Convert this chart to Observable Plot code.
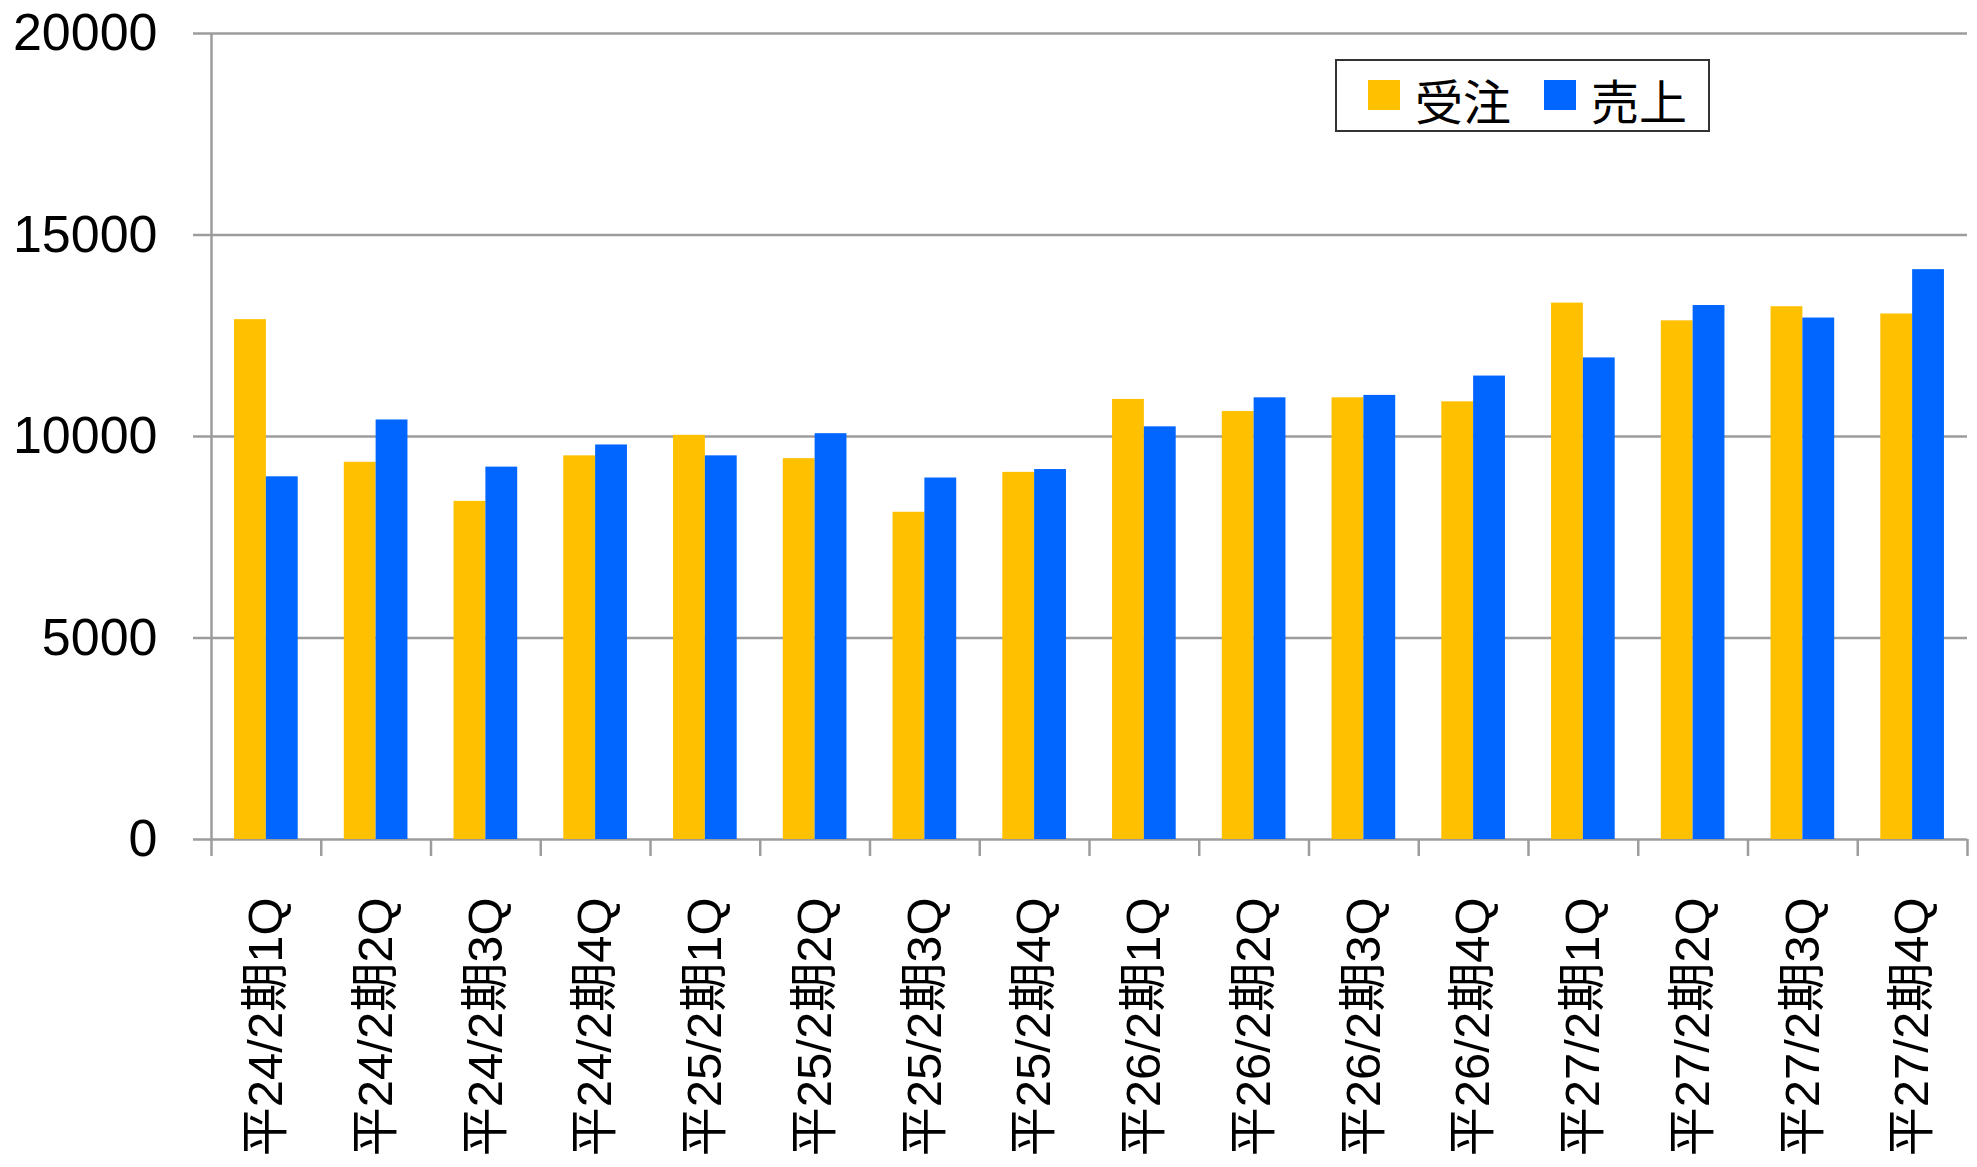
<!DOCTYPE html>
<html>
<head>
<meta charset="utf-8">
<script src="https://cdn.jsdelivr.net/npm/d3@7"></script>
<script src="https://cdn.jsdelivr.net/npm/@observablehq/plot@0.6"></script>
<style>
  html, body { margin: 0; padding: 0; background: #fff; }
  #wrap { position: relative; width: 1977px; height: 1167px; overflow: hidden; }
  #legend {
    position: absolute; left: 1335px; top: 59px; width: 375px; height: 73px;
    box-sizing: border-box; border: 2px solid #333; background: #fff;
    display: flex; align-items: center; padding-left: 31px; white-space: nowrap;
    font-family: "Noto Sans CJK JP", "Liberation Sans", sans-serif; font-size: 48px; color: #000;
  }
  #legend .sw { flex: 0 0 auto; width: 32px; height: 30px; margin-right: 15px; margin-top: -2px; }
  #legend .lab { flex: 0 0 auto; margin-right: 33px; line-height: 1; margin-top: 6px; }
</style>
</head>
<body>
<div id="wrap">
  <div id="chart"></div>
  <div id="legend"></div>
</div>
<script>
const categories = [
  "平24/2期1Q", "平24/2期2Q", "平24/2期3Q", "平24/2期4Q",
  "平25/2期1Q", "平25/2期2Q", "平25/2期3Q", "平25/2期4Q",
  "平26/2期1Q", "平26/2期2Q", "平26/2期3Q", "平26/2期4Q",
  "平27/2期1Q", "平27/2期2Q", "平27/2期3Q", "平27/2期4Q"
];
const juchu  = [12900, 9360, 8390, 9520, 10030, 9450, 8120, 9110, 10920, 10620, 10960, 10860, 13310, 12870, 13220, 13040];
const uriage = [9000, 10410, 9240, 9790, 9520, 10070, 8970, 9180, 10240, 10960, 11020, 11500, 11950, 13250, 12940, 14140];
const seriesNames = ["受注", "売上"];
const seriesColors = ["#FFC000", "#0066FF"];
const yTicks = [0, 5000, 10000, 15000, 20000];

const rows = categories.flatMap((c, i) => [
  {i, category: c, series: seriesNames[0], s: 0, value: juchu[i]},
  {i, category: c, series: seriesNames[1], s: 1, value: uriage[i]}
]);

const gapSide = 0.21, mid = 0.5;
const gridColor = "#9c9c9c";

const chart = Plot.plot({
  width: 1977,
  height: 1167,
  marginLeft: 211,
  marginRight: 10,
  marginTop: 33,
  marginBottom: 328,
  x: {type: "linear", domain: [0, categories.length], axis: null},
  y: {domain: [0, 20000], axis: null},
  color: {domain: seriesNames, range: seriesColors},
  style: {fontFamily: '"Liberation Sans", "Noto Sans CJK JP", sans-serif', fontSize: "49px", color: "#000", background: "#fff"},
  marks: [
    Plot.gridY(yTicks, {stroke: gridColor, strokeOpacity: 1, strokeWidth: 2.5}),
    Plot.axisY(yTicks, {
      tickSize: 18, tickPadding: 36, stroke: gridColor, strokeWidth: 2.5,
      fill: "#000", fontSize: 52, label: null, tickFormat: d => String(d)
    }),
    Plot.rectY(rows, {
      x1: d => d.i + (d.s === 0 ? gapSide : mid),
      x2: d => d.i + (d.s === 0 ? mid : 1 - gapSide),
      y1: 0,
      y2: "value",
      fill: "series"
    }),
    Plot.ruleX([0], {y1: 0, y2: 20000, stroke: gridColor, strokeWidth: 2.5}),
    Plot.axisX(d3.range(categories.length + 1), {
      tickSize: 17, tickFormat: () => "", stroke: gridColor, strokeWidth: 2.5, label: null
    }),
    Plot.axisX(d3.range(categories.length).map(i => i + 0.5), {
      tickSize: 0, tickPadding: 58, tickRotate: -90, fill: "#000", fontSize: 49,
      tickFormat: t => categories[Math.floor(t)], label: null
    })
  ]
});
document.getElementById("chart").appendChild(chart);

const legend = document.getElementById("legend");
seriesNames.forEach((name, k) => {
  const sw = document.createElement("span");
  sw.className = "sw";
  sw.style.background = seriesColors[k];
  const lab = document.createElement("span");
  lab.className = "lab";
  lab.textContent = name;
  legend.appendChild(sw);
  legend.appendChild(lab);
});
</script>
</body>
</html>
